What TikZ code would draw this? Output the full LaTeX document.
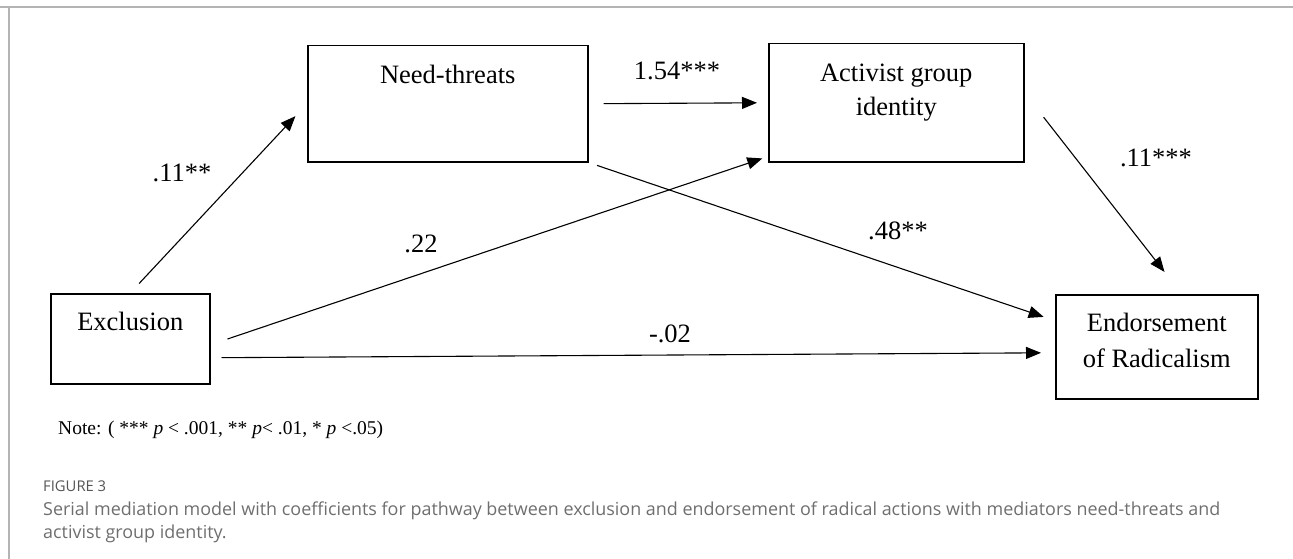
\documentclass[tikz,border=0pt]{standalone}
\usepackage{fontspec}
\setmainfont{Liberation Serif}
\newfontfamily\capfont{Open Sans}
\usetikzlibrary{arrows.meta,positioning}
\definecolor{framegray}{HTML}{B4B4B4}
\definecolor{capgray}{HTML}{6E6E6E}
\definecolor{figgray}{HTML}{555555}
\newlength\capw
\newlength\figw
\newcommand\captextone{Serial mediation model with coefficients for pathway between exclusion and endorsement of radical actions with mediators need-threats and}
\newcommand\notetext{Note: ( *** \textit{p} < .001, ** \textit{p}< .01, * \textit{p} <.05)}
\begin{document}
% caption sizes fitted to the widths in the figure
\settowidth\capw{\capfont\fontsize{10}{12}\selectfont\captextone}
\settowidth\figw{\capfont\fontsize{10}{12}\selectfont FIGURE 3}
\pgfmathsetmacro\capsize{10*1177/\capw}
\pgfmathsetmacro\figsize{10*63/\figw}
\begin{tikzpicture}[x=1pt,y=-1pt]

    \useasboundingbox (0,0) rectangle (1293,559);
    \tikzset{boxstyle/.style={draw,line width=1.5pt,inner sep=0pt,anchor=north west},
             txt/.style={font=\fontsize{26.5}{36}\selectfont,inner sep=0pt,anchor=base}}

    % frame
    \draw[framegray,line width=1.5pt] (0,7) -- (1293,7);
    \draw[framegray,line width=1.5pt] (9,7) -- (9,559);

    \node[boxstyle,minimum width=159pt,minimum height=90pt] (excl) at (50,293) {};
    \node[boxstyle,minimum width=280pt,minimum height=116pt] (need) at (307,45) {};
    \node[boxstyle,minimum width=255pt,minimum height=118pt] (act) at (768,43) {};
    \node[boxstyle,minimum width=202pt,minimum height=104pt] (endo) at (1055,294) {};

    \node[txt] (exclt) at ([yshift=-37pt]excl.north) {Exclusion};
    \node[txt] (needt) at ([yshift=-39pt]need.north) {Need-threats};
    \node[txt] (actt1) at ([yshift=-39pt]act.north) {Activist group};
    \node[txt] (actt2) at ([yshift=-73pt]act.north) {identity};
    \node[txt] (endot1) at ([yshift=-37pt]endo.north) {Endorsement};
    \node[txt] (endot2) at ([yshift=-73pt]endo.north) {of Radicalism};

    \begin{scope}[every path/.style={-{Triangle[length=15pt,width=12pt]},line width=1.1pt}]
        \draw[shorten <=13pt,shorten >=17pt] (excl.north) -- (need.west);
        \draw[shorten <=15pt,shorten >=11pt] (need.east) -- (act.west);
        \draw[shorten <=18pt,shorten >=6pt] ([yshift=-6pt]excl.east) -- ([yshift=6pt]act.south west);
        \draw[shorten <=9pt,shorten >=12pt] (need.south east) -- ([yshift=26pt]endo.west);
        \draw[shorten <=11pt,shorten >=14pt] ([yshift=-19pt]excl.east) -- ([yshift=-6pt]endo.west);
        \draw[shorten <=31pt,shorten >=28pt] ([yshift=10pt]act.east) -- ([xshift=25pt]endo.north);
    \end{scope}

    \node[txt] (c1) at (182,182) {.11**};
    \node[txt] (c2) at (677,80) {1.54***};
    \node[txt] (c3) at (1156,167) {.11***};
    \node[txt] (c4) at (421,252) {.22};
    \node[txt] (c5) at (898,239) {.48**};
    \node[txt] (c6) at (670,342) {-.02};

    \node[inner sep=0pt,anchor=base west,font=\fontsize{19.5}{23}\selectfont] (note) at (58,434) {\notetext};

    \node[inner sep=0pt,anchor=base west,text=figgray,font=\capfont\fontsize{\figsize}{16}\selectfont] (fig) at (43,491) {FIGURE 3};
    \node[inner sep=0pt,anchor=base west,text=capgray,font=\capfont\fontsize{\capsize}{22}\selectfont] (cap1) at (43,515)
        {\captextone};
    \node[inner sep=0pt,anchor=base west,text=capgray,font=\capfont\fontsize{\capsize}{22}\selectfont] (cap2) at (43,538)
        {activist group identity.};
\end{tikzpicture}
\end{document}
